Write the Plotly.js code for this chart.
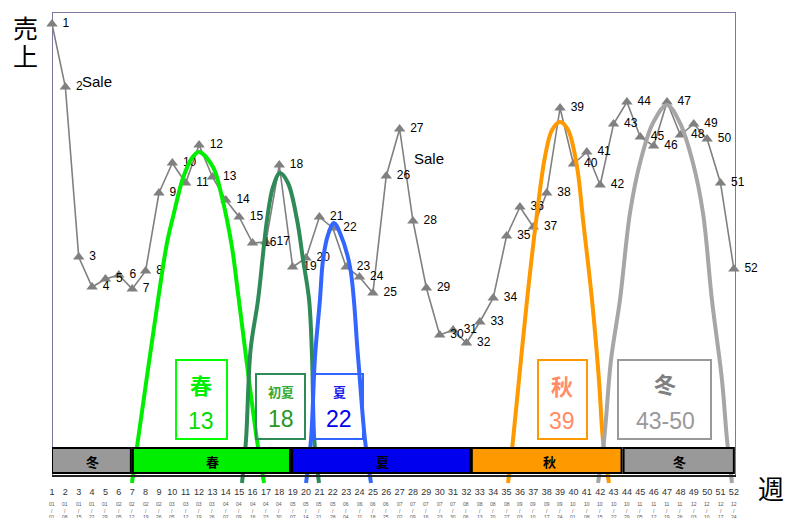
<!DOCTYPE html>
<html><head><meta charset="utf-8">
<script src="https://cdn.plot.ly/plotly-3.0.1.min.js"></script>
<style>html,body{margin:0;padding:0;background:#fff}#chart{width:793px;height:518px}</style>
</head><body><div id="chart"></div>
<script>
// ---- data ----
const weeks = [1,2,3,4,5,6,7,8,9,10,11,12,13,14,15,16,17,18,19,20,21,22,23,24,25,26,27,28,29,30,31,32,33,34,35,36,37,38,39,40,41,42,43,44,45,46,47,48,49,50,51,52];
const sales = [461,398,228,198,206,210,196,214,292,322,302,340,308,285,268,242,243,320,218,227,268,257,218,208,192,309,356,264,197,150,155,142,163,187,249,278,258,292,377,321,333,300,361,383,348,339,383,350,361,346,302,216];
const tickLabels = ['1','2','3','4','5','6','7','8','9','10','11','12','13','14','15','16','17','18','19','20','21','22','23','24','25','26','27','28','29','30','31','32','33','34','35','36','37','38','39','40','41','42','43','44','45','46','47','48','49','50','51','52'];
const dateLabels = ['01/01','01/08','01/15','01/22','01/29','02/05','02/12','02/19','02/26','03/05','03/12','03/19','03/26','04/02','04/09','04/16','04/23','04/30','05/07','05/14','05/21','05/28','06/04','06/11','06/18','06/25','07/02','07/09','07/16','07/23','07/30','08/06','08/13','08/20','08/27','09/03','09/10','09/17','09/24','10/01','10/08','10/15','10/22','10/29','11/05','11/12','11/19','11/26','12/03','12/10','12/17','12/24'];
const saleNotes = ['Sale','Sale'];
const saleNoteWeeks = [3.10, 27.9];
const saleNoteValues = [404, 327];

// seasonal peak curves (week, level)
const springX = [6.98,7.43,8.93,9.60,10.05,10.80,11.47,11.99,13.04,13.71,14.46,14.91,16.33,16.86];
const springY = [2,45,185,242,268,307,327,333,318,288,238,192,45,2];
const earlyX = [15.21,15.51,15.85,16.41,17.08,17.53,18.05,18.65,19.33,19.78,20.23,20.45,20.62,20.97];
const earlyY = [2,45,135,185,265,298,312,302,265,225,185,128,45,2];
const summerX = [20.0,20.37,20.67,21.04,21.27,21.64,22.09,22.54,23.29,23.89,24.41,24.86];
const summerY = [2,45,128,185,225,250,262,252,218,128,45,2];
const autumnX = [35.11,35.48,36.0,36.53,37.28,37.87,38.40,39.0,39.6,40.27,40.72,41.39,41.91,42.21,42.66];
const autumnY = [2,45,115,185,272,328,355,363,355,318,265,185,105,45,2];
const winterX = [41.84,42.29,42.81,43.48,44.23,44.98,45.95,47.0,47.97,48.94,49.69,50.36,51.11,51.49,51.86];
const winterY = [2,45,125,185,272,322,362,380,362,322,272,185,105,45,2];

// season band
const seasonNames = ['冬','春','夏','秋','冬'];
const seasonStart = [1,7.05,18.95,32.4,43.75];
const seasonEnd = [6.9,18.8,32.3,43.6,52];

// peak labels
const peakNames = ['春','初夏','夏','秋','冬'];
const peakWeeks = ['13','18','22','39','43-50'];

// ---- helpers (pixel -> axis) ----
const PXW = 13.37;
function X(px){ return 1 + (px - 52) / PXW; }
function Y(py){ return 485 - py; }
function PY(py){ return (485 - py) / 473; }

const JP = 'Noto Sans CJK JP, sans-serif';
const AR = 'Liberation Sans, Arial, sans-serif';

const seasonFill = ['#999999','#00ee00','#0000ee','#ff9900','#999999'];
const curveColors = ['#00ee00','#2e8b57','#3366ff','#ff9900','#a6a6a6'];

const traces = [];
traces.push({
  x: weeks, y: sales, type:'scatter', mode:'lines+markers+text',
  text: tickLabels.map(t => '\u00a0' + t), textposition:'middle right',
  textfont:{family:AR, size:12, color:'#000'},
  line:{color:'#808080', width:1.6},
  marker:{symbol:'triangle-up', size:10, color:'#808080'},
  cliponaxis:false, hoverinfo:'skip'
});
const curves = [[springX,springY],[earlyX,earlyY],[summerX,summerY],[autumnX,autumnY],[winterX,winterY]];
curves.forEach((c,i)=>{
  traces.push({x:c[0], y:c[1], type:'scatter', mode:'lines',
    line:{color:curveColors[i], width:4, shape:'spline', smoothing:1},
    cliponaxis:false, hoverinfo:'skip'});
});

const shapes = [];
shapes.push({type:'rect', xref:'x', yref:'y', x0:X(52), x1:X(736), y0:Y(476), y1:Y(12), line:{color:'#7a7aa0', width:2}, layer:'below'});
shapes.push({type:'line', xref:'x', yref:'y', x0:X(52), x1:X(736), y0:Y(476), y1:Y(476), line:{color:'#222', width:2}});
seasonNames.forEach((s,i)=>{
  shapes.push({type:'rect', xref:'x', yref:'y', x0:seasonStart[i], x1:seasonEnd[i], y0:Y(473), y1:Y(448),
    fillcolor:seasonFill[i], line:{color:'#000', width:2}, layer:'above'});
});
const boxPx = [[176,360,227,439],[256,374,305,439],[314,374,363,439],[538,360,587,439],[618,360,711,439]];
const boxLine = ['#00ff00','#2e8b57','#3366ff','#ff9900','#999999'];
boxPx.forEach((b,i)=>{
  shapes.push({type:'rect', xref:'x', yref:'y', x0:X(b[0]), x1:X(b[2]), y0:Y(b[3]), y1:Y(b[1]),
    line:{color:boxLine[i], width:2}, fillcolor:'rgba(255,255,255,0)', layer:'above'});
});

const annotations = [];
const seasonLabelX = [92,212,382,549,679];
seasonNames.forEach((s,i)=>{
  annotations.push({x:X(seasonLabelX[i]), y:Y(461), xref:'x', yref:'y', text:'<b>'+s+'</b>', showarrow:false,
    font:{family:JP, size:13, color:'#000'}, xanchor:'center', yanchor:'middle'});
});
const nameCfg = [[201,384,22,'#00ee00'],[281,391,13,'#33aa33'],[339,391,13,'#1a1aee'],[562,385,22,'#ff8c66'],[665,383,22,'#808080']];
const numCfg = [[201,421,23,'#00dd00'],[281,419,23,'#229922'],[339,419,23,'#0000ee'],[562,421,23,'#ff8c66'],[665,421,23,'#999999']];
peakNames.forEach((n,i)=>{
  const a = nameCfg[i], b = numCfg[i];
  annotations.push({x:X(a[0]), y:Y(a[1]), xref:'x', yref:'y', text:'<b>'+n+'</b>', showarrow:false,
    font:{family:JP, size:a[2], color:a[3]}, xanchor:'center', yanchor:'middle'});
  annotations.push({x:X(b[0]), y:Y(b[1]), xref:'x', yref:'y', text:peakWeeks[i], showarrow:false,
    font:{family:AR, size:b[2], color:b[3]}, xanchor:'center', yanchor:'middle'});
});
saleNotes.forEach((s,i)=>{
  annotations.push({x:saleNoteWeeks[i], y:saleNoteValues[i], xref:'x', yref:'y', text:s, showarrow:false,
    font:{family:AR, size:15, color:'#000'}, xanchor:'left', yanchor:'middle'});
});
// week start dates under the week numbers
weeks.forEach((w,i)=>{
  annotations.push({x:w, y:PY(501), xref:'x', yref:'paper', text:dateLabels[i].replace('/', '<br>/<br>'),
    showarrow:false, font:{family:AR, size:5, color:'#555'}, xanchor:'center', yanchor:'top',
    borderpad:0, borderwidth:0});
});
annotations.push({x:(25-52)/684, y:PY(27), xref:'paper', yref:'paper', text:'売', showarrow:false, font:{family:JP, size:25, color:'#000'}, xanchor:'center', yanchor:'middle'});
annotations.push({x:(25-52)/684, y:PY(55), xref:'paper', yref:'paper', text:'上', showarrow:false, font:{family:JP, size:25, color:'#000'}, xanchor:'center', yanchor:'middle'});
annotations.push({x:(771-52)/684, y:PY(487), xref:'paper', yref:'paper', text:'週', showarrow:false, font:{family:JP, size:26, color:'#000'}, xanchor:'center', yanchor:'middle'});

const layout = {
  width:793, height:518,
  margin:{l:52, r:57, t:12, b:33, pad:0},
  paper_bgcolor:'#fff', plot_bgcolor:'rgba(0,0,0,0)',
  showlegend:false,
  xaxis:{range:[1, 1 + 684/PXW], showgrid:false, zeroline:false, showline:false, ticks:'',
    tickvals:weeks, ticktext:tickLabels, tickangle:0,
    tickfont:{family:AR, size:9, color:'#333'}, fixedrange:true},
  yaxis:{range:[0,473], visible:false, fixedrange:true},
  shapes:shapes, annotations:annotations
};
Plotly.newPlot('chart', traces, layout, {staticPlot:true, displayModeBar:false});
</script>
</body></html>
